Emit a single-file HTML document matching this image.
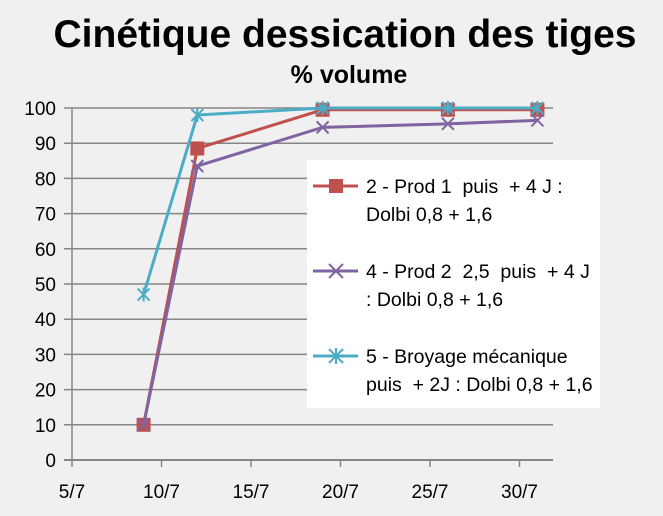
<!DOCTYPE html>
<html><head><meta charset="utf-8"><style>
body{margin:0;background:#f0f0f0;}
svg{display:block;font-family:"Liberation Sans",sans-serif;}
.lg{white-space:pre;}
</style></head><body>
<svg width="663" height="516">
<rect width="663" height="516" fill="#f0f0f0"/>
<text x="345" y="47" text-anchor="middle" font-size="39" font-weight="bold">Cinétique dessication des tiges</text>
<text x="349" y="83" text-anchor="middle" font-size="25" font-weight="bold">% volume</text>
<g id="grid"></g><g id="axes"></g><g id="series"></g>
<g>
<rect x="307" y="160" width="293" height="248" fill="#fff"/>
<line x1="313" y1="186" x2="358" y2="186" stroke="#c0504d" stroke-width="3"/>
<rect x="329" y="179" width="14" height="14" fill="#c0504d"/>
<text class="lg" x="366" y="193" font-size="19.5">2 - Prod 1  puis  + 4 J :</text>
<text class="lg" x="366" y="221" font-size="19.5">Dolbi 0,8 + 1,6</text>
<line x1="313" y1="271" x2="358" y2="271" stroke="#8064a2" stroke-width="3"/>
<path d="M329,264 l14,14 M343,264 l-14,14" stroke="#8064a2" stroke-width="2"/>
<text class="lg" x="366" y="278" font-size="19.5">4 - Prod 2  2,5  puis  + 4 J</text>
<text class="lg" x="366" y="306" font-size="19.5">: Dolbi 0,8 + 1,6</text>
<line x1="313" y1="356" x2="358" y2="356" stroke="#4bacc6" stroke-width="3"/>
<path d="M329,349 l14,14 M343,349 l-14,14 M336,348 v16" stroke="#4bacc6" stroke-width="2"/>
<text class="lg" x="366" y="363" font-size="19.5">5 - Broyage mécanique</text>
<text class="lg" x="366" y="391" font-size="19.5">puis  + 2J : Dolbi 0,8 + 1,6</text>
</g>
</svg>
<script>
const days=[9,12,19,26,31];
const red=[10,88.5,99.5,99.5,99.5];
const purple=[10,83.5,94.5,95.5,96.5];
const teal=[47,98,100,100,100];
const yTicks=[0,10,20,30,40,50,60,70,80,90,100];
const xTicks=[5,10,15,20,25,30];
const xTickLabels=["5/7","10/7","15/7","20/7","25/7","30/7"];
const NS="http://www.w3.org/2000/svg";
const X=d=>72+(d-5)*17.9, Y=v=>460-v*3.52;
function mk(t,a,p){const e=document.createElementNS(NS,t);for(const k in a)e.setAttribute(k,a[k]);p.appendChild(e);return e;}
const grid=document.getElementById('grid'),axes=document.getElementById('axes'),ser=document.getElementById('series');
yTicks.forEach(v=>{
 const l=mk('line',{x1:64,x2:553,y1:Y(v),y2:Y(v),stroke:'#868686','stroke-width':1.5},grid);
 
 
 const t=mk('text',{x:56,y:Y(v)+7,'text-anchor':'end','font-size':19},axes);t.textContent=v;
 
 
});
mk('line',{x1:72,x2:72,y1:Y(100),y2:Y(0)+1,stroke:'#868686','stroke-width':1.5},axes);
mk('line',{x1:64,x2:553,y1:Y(0),y2:Y(0),stroke:'#868686','stroke-width':2},axes);
xTicks.forEach((d,i)=>{
 mk('line',{x1:X(d),x2:X(d),y1:Y(0),y2:Y(0)+7,stroke:'#868686','stroke-width':1.5},axes);
 const t=mk('text',{x:X(d),y:498,'text-anchor':'middle','font-size':19},axes);t.textContent=xTickLabels[i];
 
 
});
function line(vals,col,name,marker){
 const g=mk('g',{},ser);
 
 
 mk('polyline',{points:days.map((d,i)=>X(d)+','+Y(vals[i])).join(' '),fill:'none',stroke:col,'stroke-width':3},g);
 days.forEach((d,i)=>{const x=X(d),y=Y(vals[i]);
  if(marker==='sq')mk('rect',{x:x-7,y:y-7,width:14,height:14,fill:col},g);
  else{let p=`M${x-6},${y-6}L${x+6},${y+6}M${x+6},${y-6}L${x-6},${y+6}`;if(marker==='star')p+=`M${x},${y-7}V${y+7}`;
   mk('path',{d:p,stroke:col,'stroke-width':2},g);}
 });
}
line(red,'#c0504d','series-2','sq');
line(purple,'#8064a2','series-4','x');
line(teal,'#4bacc6','series-5','star');
</script>
</body></html>
